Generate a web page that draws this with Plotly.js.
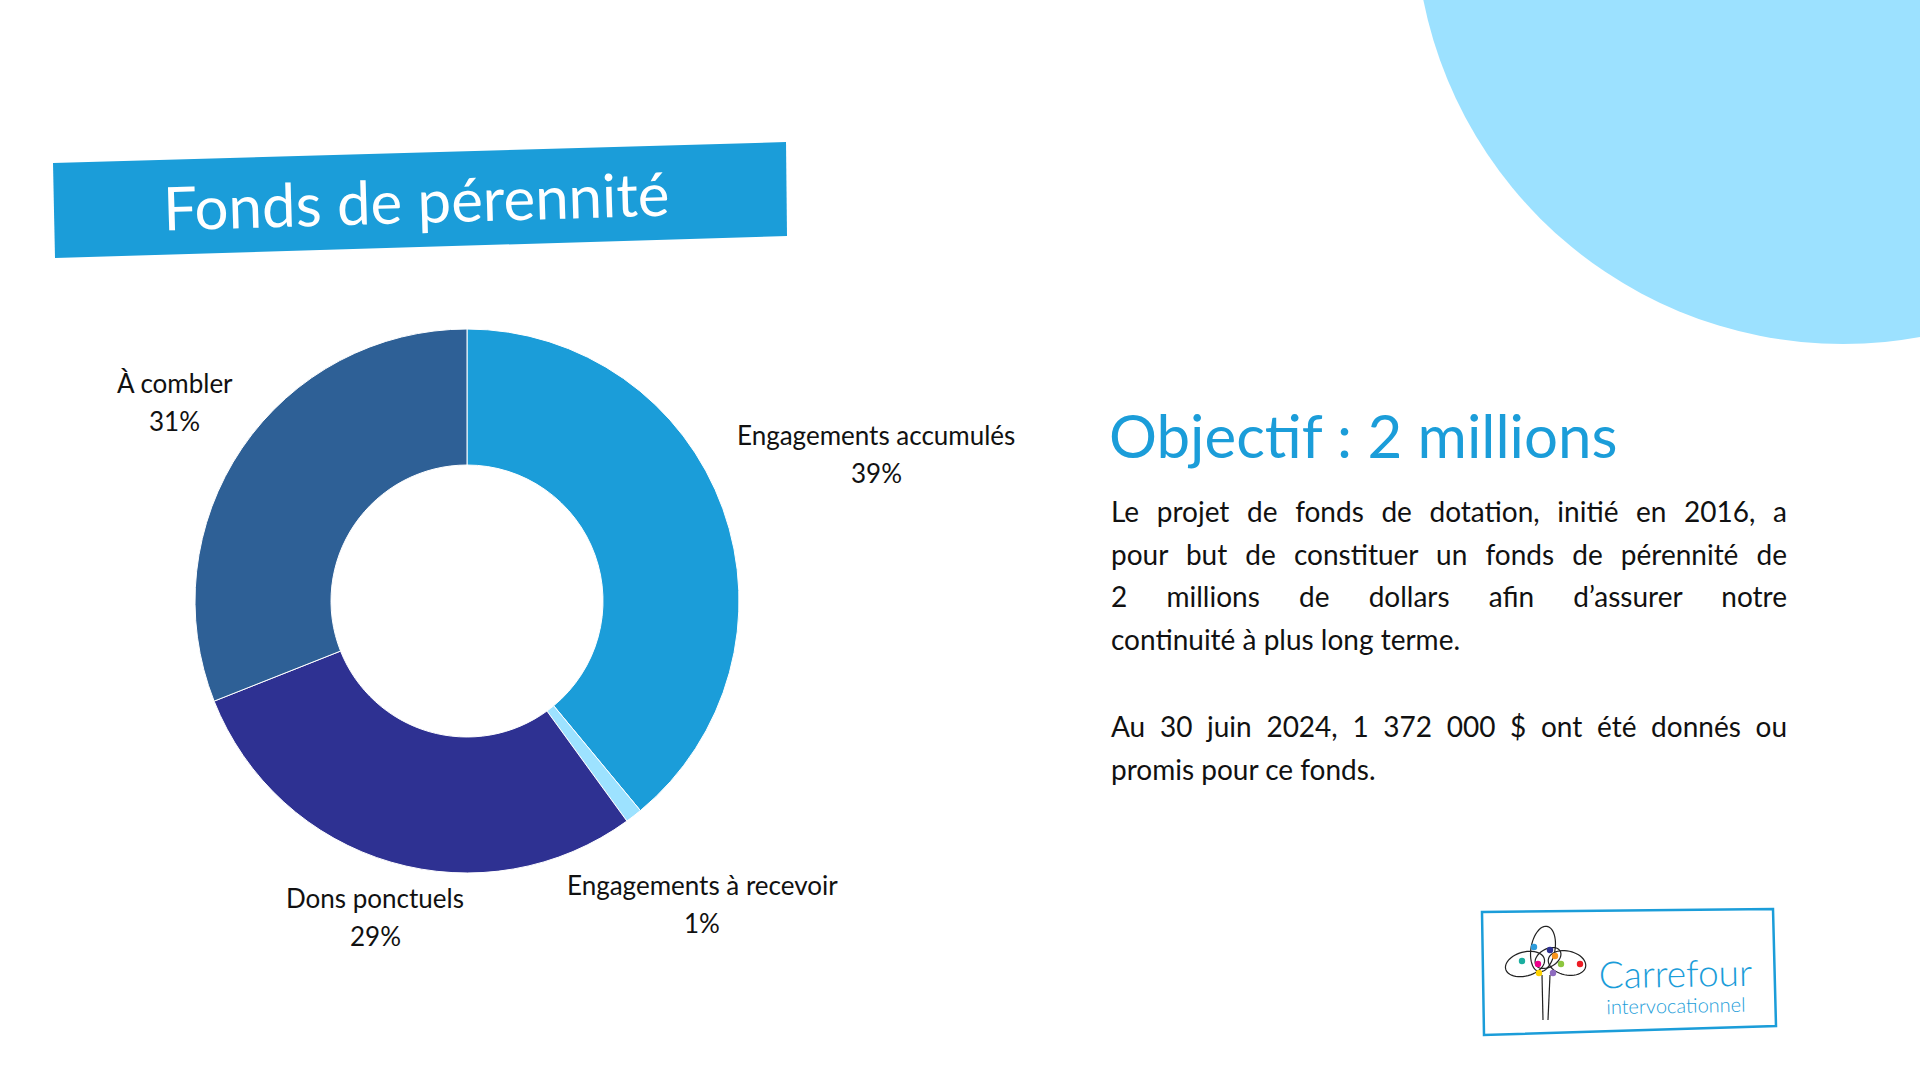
<!DOCTYPE html>
<html><head><meta charset="utf-8">
<script src="https://cdn.plot.ly/plotly-3.0.1.min.js"></script>
<style>html,body{margin:0;padding:0;background:#fff;overflow:hidden}</style>
</head><body><div id="chart" style="width:1920px;height:1080px"></div>
<script>
// ---- data ----
const labels = ['Engagements accumulés', 'Engagements à recevoir', 'Dons ponctuels', 'À combler'];
const values = [39, 1, 29, 31];
const sliceColors = ['#1B9DD9', '#9DE2FF', '#2E3192', '#2E6096'];
const titleText = 'Fonds de pérennité';
const headline = 'Objectif : 2 millions';
const bodyLines = [
  'Le projet de fonds de dotation, initié en 2016, a',
  'pour but de constituer un fonds de pérennité de',
  '2 millions de dollars afin d’assurer notre',
  'continuité à plus long terme.',
  'Au 30 juin 2024, 1 372 000 $ ont été donnés ou',
  'promis pour ce fonds.'
];
const justified = [true, true, true, false, true, false];
const logoMain = 'Carrefour';
const logoSub = 'intervocationnel';

// ---- layout helpers (pixel -> paper) ----
const W = 1920, H = 1080;
const X = p => p / W;
const Y = p => 1 - p / H;
const pathOf = pts => 'M ' + pts.map(p => X(p[0]) + ',' + Y(p[1])).join(' L ') + ' Z';
function ellipsePts(cx, cy, rx, ry, rot) {
  const a = rot * Math.PI / 180, pts = [];
  for (let i = 0; i < 48; i++) {
    const t = i / 48 * 2 * Math.PI;
    const ex = rx * Math.cos(t), ey = ry * Math.sin(t);
    pts.push([cx + ex * Math.cos(a) - ey * Math.sin(a), cy + ex * Math.sin(a) + ey * Math.cos(a)]);
  }
  return pts;
}

const FONT = 'Lato, "Noto Sans", sans-serif';
const pieCx = 467, pieCy = 601, pieR = 272;
const labelDist = [1.6, 1.41, 1.21, 1.3];

const trace = {
  type: 'pie', labels: labels, values: values, sort: false, direction: 'clockwise', rotation: 0,
  hole: 0.5, textinfo: 'none', hoverinfo: 'label+percent', showlegend: false,
  marker: {colors: sliceColors, line: {color: '#ffffff', width: 1}},
  domain: {x: [X(pieCx - pieR), X(pieCx + pieR)], y: [Y(pieCy + pieR), Y(pieCy - pieR)]}
};

const annotations = [];
const total = values.reduce((a, b) => a + b, 0);
let cum = 0;
values.forEach((v, i) => {
  const mid = (cum + v / 2) / total * 2 * Math.PI;
  cum += v;
  const lx = pieCx + labelDist[i] * pieR * Math.sin(mid);
  const ly = pieCy - labelDist[i] * pieR * Math.cos(mid);
  const pct = Math.round(v / total * 100) + '%';
  annotations.push({text: labels[i], x: X(lx), y: Y(ly - 19), xref: 'paper', yref: 'paper', showarrow: false,
    xanchor: 'center', yanchor: 'middle', font: {family: FONT, size: 26, color: '#111111'}});
  annotations.push({text: pct, x: X(lx), y: Y(ly + 19), xref: 'paper', yref: 'paper', showarrow: false,
    xanchor: 'center', yanchor: 'middle', font: {family: FONT, size: 26, color: '#111111'}});
});

// title in banner
annotations.push({text: titleText, x: X(416), y: Y(200), xref: 'paper', yref: 'paper', showarrow: false,
  xanchor: 'center', yanchor: 'middle', textangle: -1.7, font: {family: FONT, size: 60, color: '#ffffff'}});
// headline
annotations.push({text: headline, x: X(1107), y: Y(435), xref: 'paper', yref: 'paper', showarrow: false,
  xanchor: 'left', yanchor: 'middle', font: {family: FONT, size: 60, color: '#1B9DD9'}});
// body
const lineY = [511, 553.5, 596, 639, 726, 769];
const bodyStart = annotations.length;
bodyLines.forEach((t, i) => {
  annotations.push({text: t, x: X(1109), y: Y(lineY[i]), xref: 'paper', yref: 'paper', showarrow: false,
    xanchor: 'left', yanchor: 'middle', align: 'left', font: {family: FONT, size: 28, color: '#111111'}});
});
// logo text (one block, two sizes)
annotations.push({text: '<span style="font-size:37px">' + logoMain + '</span><br>' + logoSub,
  x: X(1675), y: Y(983), xref: 'paper', yref: 'paper', showarrow: false, align: 'center',
  xanchor: 'center', yanchor: 'middle', textangle: -1, font: {family: FONT, size: 20, weight: 300, color: '#1B9DD9'}});

const shapes = [];
// top-right circle
shapes.push({type: 'circle', xref: 'paper', yref: 'paper', layer: 'below',
  x0: X(1843 - 428), x1: X(1843 + 428), y0: Y(-84 + 428), y1: Y(-84 - 428),
  fillcolor: '#9CE1FF', line: {width: 0}});
// title banner
shapes.push({type: 'path', xref: 'paper', yref: 'paper', layer: 'below',
  path: pathOf([[53, 163], [786, 142], [787, 236], [55, 258]]), fillcolor: '#1B9DD9', line: {width: 0}});
// logo box
shapes.push({type: 'path', xref: 'paper', yref: 'paper', layer: 'below',
  path: pathOf([[1482, 912], [1773, 909], [1776, 1026], [1484, 1035]]), fillcolor: 'rgba(255,255,255,0)',
  line: {color: '#1B9DD9', width: 2.5}});
// logo tree loops
[[1543, 949, 12, 23, 10], [1525, 964, 20, 12, -15], [1567, 963, 19, 12, 12], [1548, 958, 14, 9, -30]].forEach(e => {
  shapes.push({type: 'path', xref: 'paper', yref: 'paper', path: pathOf(ellipsePts(e[0], e[1], e[2], e[3], e[4])),
    line: {color: '#222222', width: 1.2}, fillcolor: 'rgba(0,0,0,0)'});
});
[[1542, 975, 1543, 1020], [1550, 975, 1548, 1020]].forEach(l => {
  shapes.push({type: 'line', xref: 'paper', yref: 'paper', x0: X(l[0]), y0: Y(l[1]), x1: X(l[2]), y1: Y(l[3]),
    line: {color: '#222222', width: 1.2}});
});
[[1534, 947, '#2E9CDB'], [1550, 950, '#2E3192'], [1555, 956, '#F7941D'], [1522, 961, '#1AAE9F'],
 [1538, 964, '#EC008C'], [1561, 964, '#8DC63F'], [1580, 964, '#ED1C24'], [1539, 973, '#FFD200'],
 [1553, 973, '#8E6BBF']].forEach(d => {
  shapes.push({type: 'circle', xref: 'paper', yref: 'paper', x0: X(d[0] - 3.2), x1: X(d[0] + 3.2),
    y0: Y(d[1] + 3.2), y1: Y(d[1] - 3.2), fillcolor: d[2], line: {width: 0}});
});

const layout = {
  width: W, height: H, margin: {l: 0, r: 0, t: 0, b: 0},
  paper_bgcolor: '#ffffff', plot_bgcolor: '#ffffff', showlegend: false,
  font: {family: FONT}, annotations: annotations, shapes: shapes
};

Plotly.newPlot('chart', [trace], layout, {displayModeBar: false, staticPlot: true}).then(() => {
  const targetW = 1785 - 1109;
  document.querySelectorAll('g.annotation').forEach(g => {
    const idx = +g.getAttribute('data-index');
    const li = idx - bodyStart;
    if (li >= 0 && li < bodyLines.length && justified[li]) {
      const t = g.querySelector('text.annotation-text');
      const w = t.getComputedTextLength();
      const spaces = (bodyLines[li].match(/ /g) || []).length;
      if (spaces > 0 && w < targetW) t.style.wordSpacing = ((targetW - w) / spaces) + 'px';
    }
  });
});
</script>
</body></html>
